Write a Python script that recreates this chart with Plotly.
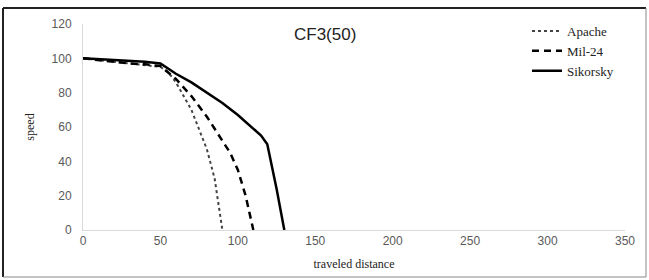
import plotly.graph_objects as go

# Data
apache_x = [0, 10, 20, 30, 40, 50, 55, 60, 70, 80, 85, 90]
apache_y = [100, 99, 98, 97, 96, 95, 92, 86, 70, 47, 30, 0]

mil_x = [0, 10, 20, 30, 40, 50, 60, 70, 80, 90, 95, 100, 105, 110]
mil_y = [100, 99, 98, 97, 96.5, 95.5, 88, 78, 66, 52, 45, 35, 20, 0]

sik_x = [0, 10, 20, 30, 40, 50, 60, 70, 80, 90, 100, 110, 115, 119, 125, 130]
sik_y = [100, 99.5, 99, 98.5, 98, 97, 91, 86, 80, 74, 67, 59, 55, 50, 24, 0]

x_ticks = [0, 50, 100, 150, 200, 250, 300, 350]
y_ticks = [0, 20, 40, 60, 80, 100, 120]

fig = go.Figure()
fig.add_trace(go.Scatter(x=apache_x, y=apache_y, mode="lines", name="Apache",
                         line=dict(color="#444444", width=2, dash="dot")))
fig.add_trace(go.Scatter(x=mil_x, y=mil_y, mode="lines", name="Mil-24",
                         line=dict(color="black", width=2.5, dash="7px,5px")))
fig.add_trace(go.Scatter(x=sik_x, y=sik_y, mode="lines", name="Sikorsky",
                         line=dict(color="black", width=2.5)))

W, H = 649, 280
L, R, T, B = 83, 24, 24, 50
pw, ph = W - L - R, H - T - B

def px2paper_x(px):
    return (px - L) / pw

def px2paper_y(py):
    return (H - B - py) / ph

fig.update_layout(
    width=W, height=H,
    margin=dict(l=L, r=R, t=T, b=B),
    paper_bgcolor="white", plot_bgcolor="white",
    showlegend=True,
    legend=dict(x=px2paper_x(527), y=px2paper_y(16), xanchor="left", yanchor="top",
                bgcolor="rgba(0,0,0,0)",
                font=dict(family="Liberation Serif", size=13, color="#222222")),
    annotations=[dict(text="CF3(50)", x=px2paper_x(325), y=px2paper_y(35),
                      xref="paper", yref="paper", showarrow=False,
                      xanchor="center", yanchor="middle",
                      font=dict(family="Liberation Sans", size=17, color="#222222"))],
    shapes=[
        dict(type="line", xref="paper", yref="paper",
             x0=px2paper_x(3), x1=px2paper_x(646), y0=px2paper_y(8), y1=px2paper_y(8),
             line=dict(color="#222222", width=2)),
        dict(type="line", xref="paper", yref="paper",
             x0=px2paper_x(3), x1=px2paper_x(3), y0=px2paper_y(8), y1=px2paper_y(277),
             line=dict(color="#222222", width=2)),
        dict(type="line", xref="paper", yref="paper",
             x0=px2paper_x(646), x1=px2paper_x(646), y0=px2paper_y(8), y1=px2paper_y(277),
             line=dict(color="#888888", width=1)),
        dict(type="line", xref="paper", yref="paper",
             x0=px2paper_x(3), x1=px2paper_x(646), y0=px2paper_y(277), y1=px2paper_y(277),
             line=dict(color="#888888", width=1)),
    ],
)

fig.update_xaxes(range=[0, 350], tickvals=x_ticks, showgrid=False, zeroline=False,
                 showline=True, linecolor="#d9d9d9", linewidth=1, ticks="",
                 tickfont=dict(family="Liberation Sans", size=12, color="#595959"),
                 title=dict(text="traveled distance", standoff=12,
                            font=dict(family="Liberation Serif", size=12, color="#222222")))
fig.update_yaxes(range=[0, 120], tickvals=y_ticks, showgrid=False, zeroline=False,
                 showline=True, linecolor="#d9d9d9", linewidth=1, ticks="",
                 ticklabelstandoff=8,
                 tickfont=dict(family="Liberation Sans", size=12, color="#595959"),
                 title=dict(text="speed", standoff=14,
                            font=dict(family="Liberation Serif", size=12, color="#222222")))

fig.write_html("out.html", config={"displayModeBar": False},
               post_script="document.body.style.margin='0';")
